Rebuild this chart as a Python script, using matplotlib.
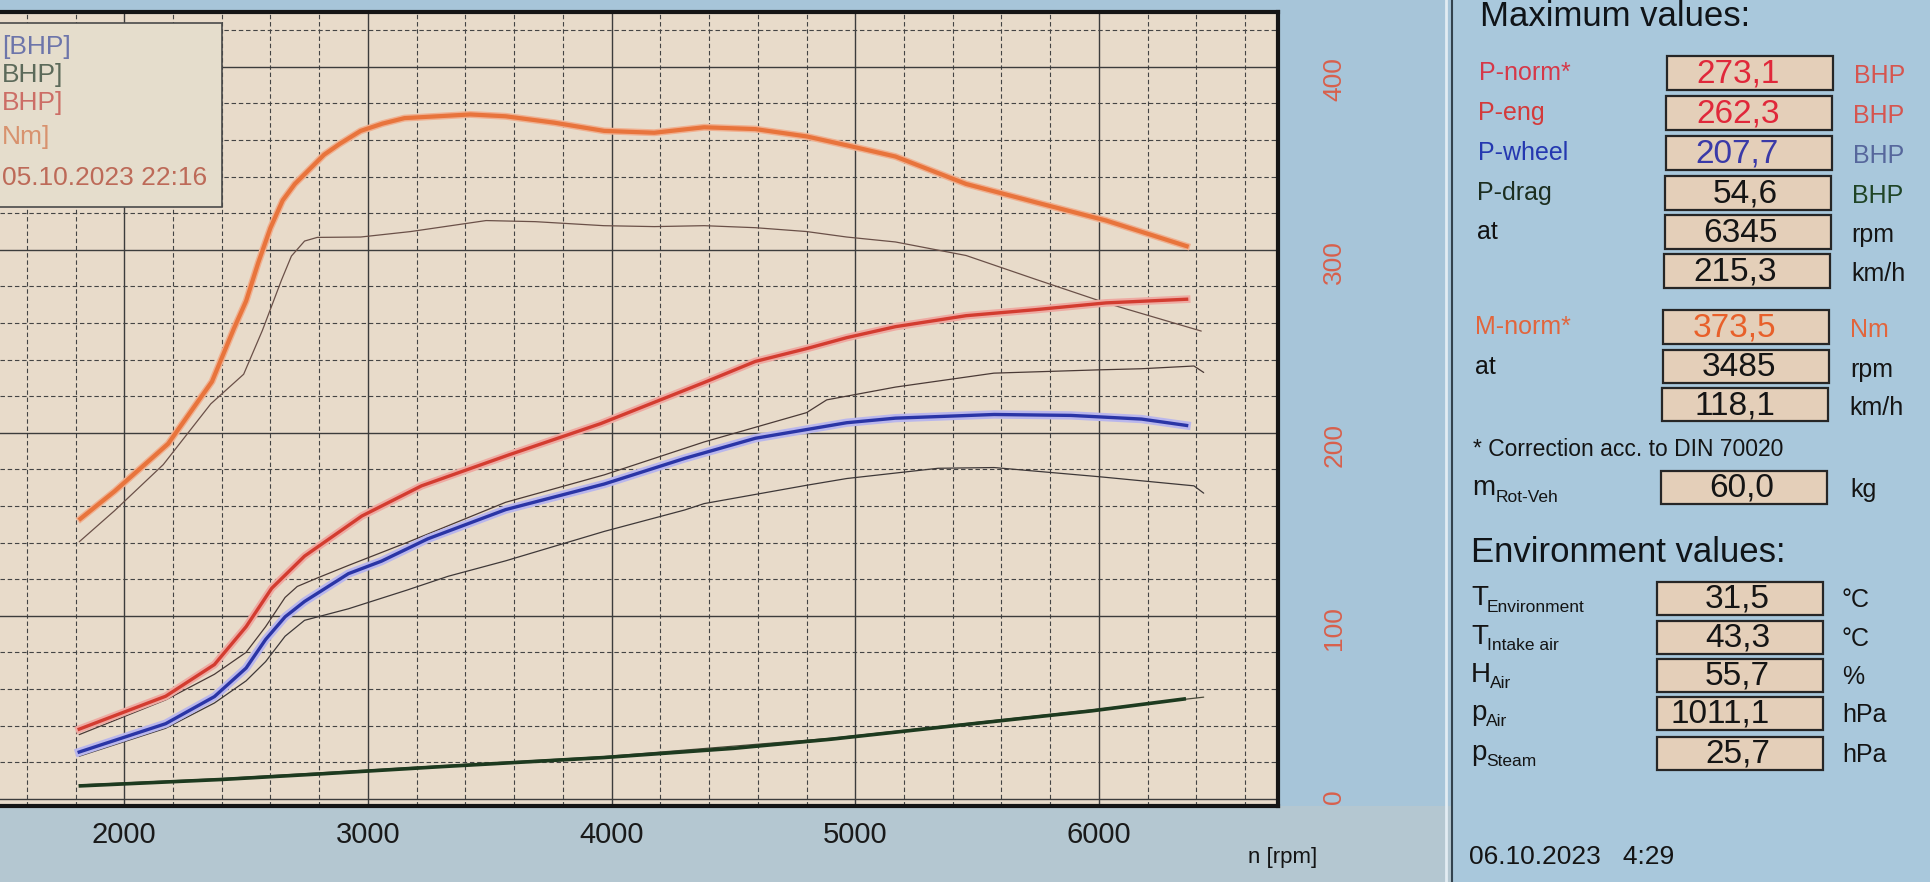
"""Dyno screen: power / torque curves with the max & environment panel."""
import matplotlib
matplotlib.use("Agg")
import matplotlib.pyplot as plt
import matplotlib.patheffects as pe
from matplotlib import font_manager
from matplotlib.patches import Rectangle

W, H = 1931, 882

# --------------------------------------------------------------------------- #
# curves (rpm, value)
# --------------------------------------------------------------------------- #
M_NORM_RPM = [1820, 1960, 2180, 2360, 2450, 2500, 2550, 2600, 2650, 2700, 2760, 2820, 2885,
              2970, 3060, 3150, 3420, 3565, 3765, 3970, 4175, 4380, 4590, 4800, 4970, 5165,
              5455, 5740, 6030, 6360]
M_NORM = [153, 168, 194, 228, 257, 272, 293, 312, 327, 336, 344, 352, 358,
          365, 369, 372, 374, 373, 369.5, 365, 364, 367, 366, 362, 357, 351,
          336, 326, 316, 302]

P_NORM_RPM = [1815, 2170, 2370, 2500, 2605, 2740, 2975, 3220, 3580, 3955, 4380, 4590, 4800,
              4965, 5165, 5455, 5740, 6030, 6360]
P_NORM = [38, 56, 73.3, 94, 115, 132.6, 154.5, 171, 188, 205, 227.5, 239, 246,
          252, 258, 264, 267.3, 271, 273]

P_WHEEL_RPM = [1815, 2170, 2370, 2500, 2580, 2660, 2740, 2920, 3055, 3245, 3565, 3970, 4300,
               4590, 4965, 5165, 5570, 5885, 6175, 6360]
P_WHEEL = [25.5, 41, 55.8, 71.4, 87, 99.4, 107.8, 123, 129.8, 142, 158, 172, 186,
           197, 205.5, 208, 210, 209.5, 207.5, 204]

P_DRAG_RPM = [1820, 2400, 2800, 3300, 3970, 4500, 4900, 5450, 5970, 6350]
P_DRAG = [7, 10.5, 13.5, 17.5, 22.5, 27.5, 32.5, 40.5, 48, 54.5]

# comparison run (thin lines)
REF_M_RPM = [1815, 1960, 2160, 2355, 2490, 2567, 2645, 2686, 2740, 2792, 2970, 3176, 3485,
             3687, 3968, 4175, 4380, 4590, 4800, 4965, 5165, 5455, 5740, 6030, 6420]
REF_M = [140.4, 157.4, 182.6, 215.8, 232, 256, 283.4, 296.6, 304.8, 306.8, 307, 310, 316,
         315.4, 313.2, 312.7, 313.2, 312.1, 310, 307, 304.3, 296.9, 283.9, 270.9, 255.6]

REF_P_RPM = [1815, 2170, 2370, 2500, 2580, 2660, 2710, 2790, 2920, 3160, 3565, 3970, 4380,
             4800, 4883, 5166, 5569, 6000, 6174, 6390, 6430]
REF_P = [35, 54, 68, 80, 94, 110, 116, 120.5, 127.5, 140, 162, 177, 195,
         211, 218, 225, 232.6, 234.4, 235, 236.5, 233]

REF_W_RPM = [1815, 2170, 2370, 2500, 2580, 2660, 2740, 2920, 3160, 3330, 3565, 3970, 4300,
             4380, 4800, 4965, 5340, 5570, 5785, 6000, 6390, 6430]
REF_W = [23.2, 38.5, 52.3, 64.4, 74.9, 88.8, 97.5, 103.8, 114, 121.6, 130, 146.1, 157.8,
         161.3, 171.3, 175, 180.6, 181, 178.5, 176, 171, 167]

REF_D_RPM = [1815, 2400, 3300, 3970, 4900, 5450, 5970, 6430]
REF_D = [7.5, 11, 18, 23, 33, 41, 48.5, 55.5]

X_TICKS = [2000, 3000, 4000, 5000, 6000]
Y_TICKS = [0, 100, 200, 300, 400]

LEGEND_LINES = ["[BHP]", "BHP]", "BHP]", "Nm]", "05.10.2023 22:16"]

# --------------------------------------------------------------------------- #
# panel contents
# --------------------------------------------------------------------------- #
MAX_LABELS = ["P-norm*", "P-eng", "P-wheel", "P-drag", "at", "", "M-norm*", "at", ""]
MAX_VALUES = ["273,1", "262,3", "207,7", "54,6", "6345", "215,3", "373,5", "3485", "118,1"]
MAX_UNITS = ["BHP", "BHP", "BHP", "BHP", "rpm", "km/h", "Nm", "rpm", "km/h"]

ROT_LABEL = ("m", "Rot-Veh")
ROT_VALUE = "60,0"
ROT_UNIT = "kg"

ENV_LABELS = [("T", "Environment"), ("T", "Intake air"), ("H", "Air"), ("p", "Air"),
              ("p", "Steam")]
ENV_VALUES = ["31,5", "43,3", "55,7", "1011,1", "25,7"]
ENV_UNITS = ["°C", "°C", "%", "hPa", "hPa"]

# layout / style
MAX_ROW_Y = [73, 113, 153, 193, 232, 271, 327, 367, 405]
ENV_ROW_Y = [598, 637, 675, 713, 753]
MAX_LABEL_COL = ["#d63848", "#d43a3a", "#2438b0", "#1c2e20", "#111111", "#111111",
                 "#e2653c", "#111111", "#111111"]
MAX_VALUE_COL = ["#e0283a", "#e0283a", "#3a3aa8", "#151515", "#151515", "#151515",
                 "#e8602a", "#151515", "#151515"]
MAX_UNIT_COL = ["#d6554f", "#d6554f", "#56679c", "#1f4426", "#151515", "#151515",
                "#e2653c", "#151515", "#151515"]

SANS = "Liberation Sans"
BG = "#a7c5d9"
PLOT_BG = "#e8dbca"


def fx(x):
    return x / W


def fy(y):
    return 1 - y / H


def ftext(fig, x, y, s, **kw):
    kw.setdefault("family", SANS)
    kw.setdefault("va", "center")
    return fig.text(fx(x), fy(y), s, **kw)


def lcd_box(fig, x, y, w, h, value, color):
    fig.add_artist(Rectangle((fx(x), fy(y + h / 2)), w / W, h / H, transform=fig.transFigure,
                             facecolor="#e4cfb9", edgecolor="#262626", lw=1.6))
    ftext(fig, x + 113, y + 1, value, ha="right", fontsize=24, color=color)


def sub_label(fig, x, y, main, sub, main_w, color="#141414"):
    ftext(fig, x, y, main, fontsize=20, color=color)
    ftext(fig, x + main_w, y + 9, sub, fontsize=12.5, color=color)


def draw_plot(fig):
    ax = fig.add_axes([0, fy(806), fx(1278), (806 - 12) / H])
    ax.set_facecolor(PLOT_BG)
    ax.set_xlim(1490, 6735)
    ax.set_ylim(-4, 430)

    ax.set_xticks(X_TICKS)
    ax.set_xticks(range(1600, 6735, 200), minor=True)
    ax.set_yticks(Y_TICKS)
    ax.set_yticks(range(20, 430, 20), minor=True)
    ax.grid(which="major", color="#3c3c3c", lw=1.0, ls="-")
    ax.grid(which="minor", color="#444444", lw=0.8, ls=(0, (4, 2.5)))
    ax.set_axisbelow(True)

    ax.yaxis.tick_right()
    ax.tick_params(axis="y", which="both", length=0, labelrotation=90, pad=32,
                   labelsize=19, labelcolor="#d8604c")
    ax.tick_params(axis="x", which="both", length=0, pad=11, labelsize=21, labelcolor="#1a1a1a")
    for lab in ax.get_xticklabels() + ax.get_yticklabels():
        lab.set_family(SANS)

    for side in ("top", "right", "bottom"):
        ax.spines[side].set_color("#151515")
        ax.spines[side].set_linewidth(3)
    ax.spines["left"].set_visible(False)

    thin = dict(lw=0.9, solid_capstyle="round")
    ax.plot(REF_D_RPM, REF_D, color="#4a4a3a", **thin)
    ax.plot(REF_W_RPM, REF_W, color="#3e3838", **thin)
    ax.plot(REF_P_RPM, REF_P, color="#4a3a36", **thin)
    ax.plot(REF_M_RPM, REF_M, color="#6a5048", **thin)

    ax.plot(P_DRAG_RPM, P_DRAG, color="#1d3a1f", lw=2.6)
    ax.plot(P_WHEEL_RPM, P_WHEEL, color="#2a35a6", lw=2.4,
            path_effects=[pe.Stroke(linewidth=6, foreground="#b9b6ec"), pe.Normal()])
    ax.plot(P_NORM_RPM, P_NORM, color="#d33c30", lw=2.4,
            path_effects=[pe.Stroke(linewidth=5.5, foreground="#eeaaa2"), pe.Normal()])
    ax.plot(M_NORM_RPM, M_NORM, color="#e8743c", lw=3.0,
            path_effects=[pe.Stroke(linewidth=5, foreground="#f0b090"), pe.Normal()])
    return ax


def draw_legend(fig):
    fig.add_artist(Rectangle((fx(-5), fy(207)), 227 / W, (207 - 23) / H,
                             transform=fig.transFigure, facecolor="#e5ddcc",
                             edgecolor="#4a4a4a", lw=1.2, zorder=3))
    cols = ["#6d75aa", "#5c6a5a", "#cc6e66", "#d8926e", "#bd6a58"]
    ys = [47, 75, 103, 137, 178]
    for s, c, y in zip(LEGEND_LINES, cols, ys):
        ftext(fig, 2, y, s, fontsize=19, color=c, zorder=4)


def draw_panel(fig):
    # backgrounds sit below the axes (zorder < 0)
    fig.add_artist(Rectangle((fx(0), 0), fx(1452), fy(806), transform=fig.transFigure,
                             facecolor="#b4c7d1", edgecolor="none", zorder=-5))
    fig.add_artist(Rectangle((fx(1453), 0), 1 - fx(1453), 1, transform=fig.transFigure,
                             facecolor="#a9c8dc", edgecolor="none", zorder=-5))
    fig.add_artist(plt.Line2D([fx(1446), fx(1446)], [0, 1], transform=fig.transFigure,
                              color="#e2ecf2", lw=2))
    fig.add_artist(plt.Line2D([fx(1452), fx(1452)], [0, 1], transform=fig.transFigure,
                              color="#33434e", lw=1.5))

    ftext(fig, 1480, 17, "Maximum values:", fontsize=25, color="#101418")
    for i, (lab, val, unit) in enumerate(zip(MAX_LABELS, MAX_VALUES, MAX_UNITS)):
        y = MAX_ROW_Y[i]
        shift = i * 0.6
        if lab:
            ftext(fig, 1479 - shift, y, lab, fontsize=18, color=MAX_LABEL_COL[i])
        lcd_box(fig, 1667 - shift, y, 166, 33, val, MAX_VALUE_COL[i])
        ftext(fig, 1854 - shift, y + 3, unit, fontsize=18, color=MAX_UNIT_COL[i])

    ftext(fig, 1473, 450, "* Correction acc. to DIN 70020", fontsize=16.5, color="#141414")
    sub_label(fig, 1472, 488, ROT_LABEL[0], ROT_LABEL[1], 24)
    lcd_box(fig, 1661, 487, 166, 33, ROT_VALUE, "#151515")
    ftext(fig, 1850, 490, ROT_UNIT, fontsize=18, color="#141414")

    ftext(fig, 1471, 553, "Environment values:", fontsize=25, color="#101418")
    main_w = {"T": 16, "H": 19, "p": 15}
    for i, ((m, s), val, unit) in enumerate(zip(ENV_LABELS, ENV_VALUES, ENV_UNITS)):
        y = ENV_ROW_Y[i]
        sub_label(fig, 1471, y, m, s, main_w[m])
        lcd_box(fig, 1657, y, 166, 33, val, "#151515")
        ftext(fig, 1842, y + 2, unit, fontsize=18, color="#141414")

    ftext(fig, 1469, 857, "06.10.2023   4:29", fontsize=19, color="#141414")
    ftext(fig, 1283, 858, "n [rpm]", fontsize=16, ha="center", color="#141414")


def main():
    names = {f.name for f in font_manager.fontManager.ttflist}
    global SANS
    if SANS not in names:
        SANS = "DejaVu Sans"

    fig = plt.figure(figsize=(W / 100, H / 100), dpi=100, facecolor=BG)
    draw_panel(fig)
    draw_plot(fig)
    draw_legend(fig)
    fig.savefig("out.png", dpi=100, facecolor=BG)


if __name__ == "__main__":
    main()
